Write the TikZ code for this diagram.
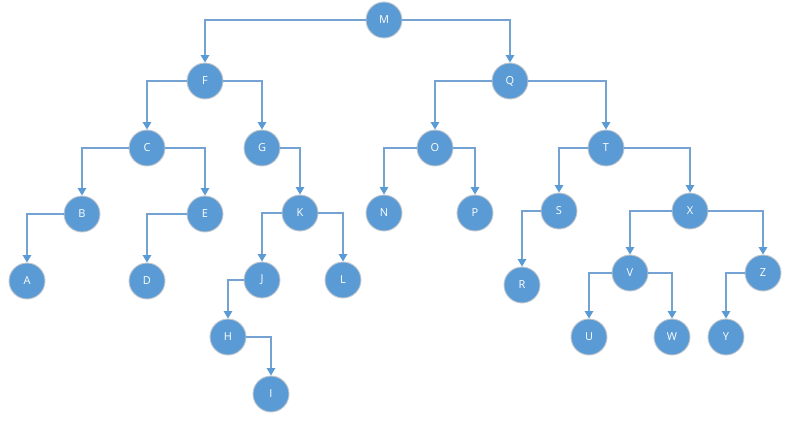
\documentclass[tikz,border=0pt]{standalone}
\usepackage{fontspec}
\setmainfont{Open Sans}
\usetikzlibrary{arrows.meta}
\definecolor{nodeblue}{HTML}{5B9BD5}
\definecolor{linkblue}{HTML}{74A2D2}
\definecolor{halo}{HTML}{C4C8CC}
\begin{document}
\begin{tikzpicture}[x=1pt,y=-1pt,
  vertex/.style={circle,fill=nodeblue,draw=halo,line width=0.9pt,
    minimum size=36pt,inner sep=0pt,text=white,
    font=\fontsize{11}{12}\selectfont},
  link/.style={draw=linkblue,line width=1.3pt,
    -{Triangle[width=8.5pt,length=7.5pt,fill=nodeblue,color=nodeblue]}}]
\useasboundingbox (0,0) rectangle (786,420);
\fill[white] (0,0) rectangle (786,420);

% nodes
\node[vertex] (M) at (384,20) {M};
\node[vertex] (F) at (205,81) {F};
\node[vertex] (Q) at (510,81) {Q};
\node[vertex] (C) at (147,148) {C};
\node[vertex] (G) at (262,148) {G};
\node[vertex] (O) at (435,148) {O};
\node[vertex] (T) at (606,148) {T};
\node[vertex] (B) at (82,214) {B};
\node[vertex] (E) at (205,214) {E};
\node[vertex] (K) at (300,213) {K};
\node[vertex] (N) at (384,213) {N};
\node[vertex] (P) at (475,213) {P};
\node[vertex] (S) at (559,211) {S};
\node[vertex] (X) at (690,211) {X};
\node[vertex] (A) at (27,281) {A};
\node[vertex] (D) at (147,281) {D};
\node[vertex] (J) at (262,280) {J};
\node[vertex] (L) at (343,280) {L};
\node[vertex] (R) at (522,285) {R};
\node[vertex] (V) at (630,273) {V};
\node[vertex] (Z) at (763,273) {Z};
\node[vertex] (H) at (228,337) {H};
\node[vertex] (U) at (589,337) {U};
\node[vertex] (W) at (672,337) {W};
\node[vertex] (Y) at (726,337) {Y};
\node[vertex] (I) at (271,394) {I};

% connectors: left children leave from the west side, right children from the east
\draw[link] (M.west) -| (F.north);
\draw[link] (M.east) -| (Q.north);
\draw[link] (F.west) -| (C.north);
\draw[link] (F.east) -| (G.north);
\draw[link] (Q.west) -| (O.north);
\draw[link] (Q.east) -| (T.north);
\draw[link] (C.west) -| (B.north);
\draw[link] (C.east) -| (E.north);
\draw[link] (G.east) -| (K.north);
\draw[link] (O.west) -| (N.north);
\draw[link] (O.east) -| (P.north);
\draw[link] (T.west) -| (S.north);
\draw[link] (T.east) -| (X.north);
\draw[link] (B.west) -| (A.north);
\draw[link] (E.west) -| (D.north);
\draw[link] (K.west) -| (J.north);
\draw[link] (K.east) -| (L.north);
\draw[link] (S.west) -| (R.north);
\draw[link] (X.west) -| (V.north);
\draw[link] (X.east) -| (Z.north);
\draw[link] (J.west) -| (H.north);
\draw[link] (H.east) -| (I.north);
\draw[link] (V.west) -| (U.north);
\draw[link] (V.east) -| (W.north);
\draw[link] (Z.west) -| (Y.north);
\end{tikzpicture}
\end{document}
